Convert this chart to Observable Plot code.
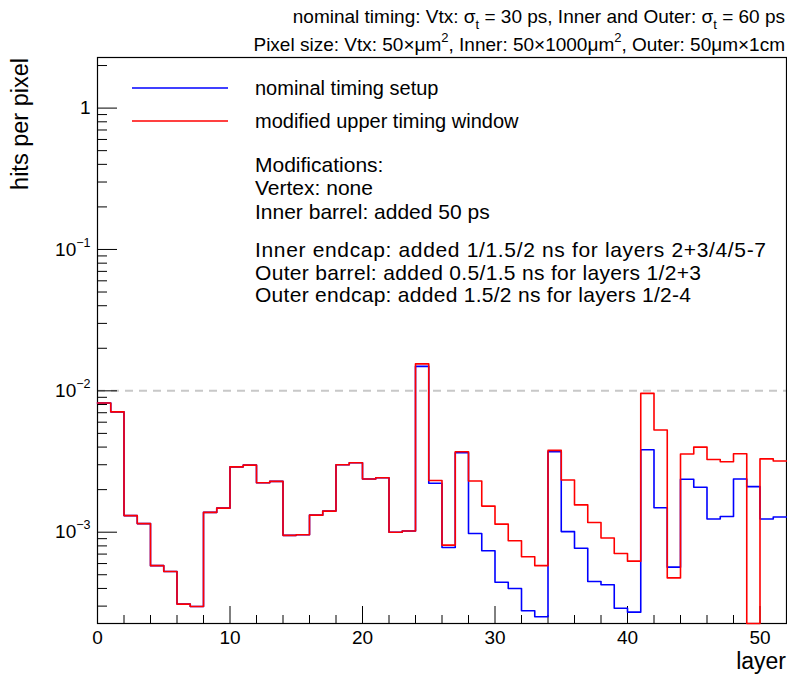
<!DOCTYPE html>
<html>
<head>
<meta charset="utf-8">
<script src="https://cdn.jsdelivr.net/npm/d3@7"></script>
<script src="https://cdn.jsdelivr.net/npm/@observablehq/plot@0.6"></script>
<style>
  html, body { margin: 0; padding: 0; background: #fff; }
  #chart svg { font-family: "Liberation Sans", Arial, Helvetica, sans-serif; display: block; }
</style>
</head>
<body>
<div id="chart"></div>
<script>
// ---- data -------------------------------------------------------------
// bin edges (layer), 52 bins of width 1
const binEdges = [0,1,2,3,4,5,6,7,8,9,10,11,12,13,14,15,16,17,18,19,20,21,22,23,24,25,
  26,27,28,29,30,31,32,33,34,35,36,37,38,39,40,41,42,43,44,45,46,47,48,49,50,51,52];

// hits per pixel, nominal timing setup (blue)
const nominalHits = [8.2e-3,7.1e-3,1.31e-3,1.15e-3,5.8e-4,5.27e-4,3.1e-4,2.98e-4,1.38e-3,1.48e-3,
  2.9e-3,2.98e-3,2.24e-3,2.29e-3,9.5e-4,9.6e-4,1.32e-3,1.41e-3,3.0e-3,3.1e-3,
  2.38e-3,2.43e-3,1.0e-3,1.02e-3,1.49e-2,2.22e-3,7.8e-4,3.65e-3,9.8e-4,7.4e-4,
  4.43e-4,4.0e-4,2.78e-4,2.52e-4,3.71e-3,1.01e-3,7.7e-4,4.48e-4,4.25e-4,2.9e-4,
  2.72e-4,3.83e-3,1.49e-3,5.66e-4,2.37e-3,2.08e-3,1.24e-3,1.29e-3,2.38e-3,2.1e-3,
  1.24e-3,1.28e-3];

// hits per pixel, modified upper timing window (red)
const modifiedHits = [8.2e-3,7.1e-3,1.31e-3,1.15e-3,5.8e-4,5.27e-4,3.1e-4,2.98e-4,1.38e-3,1.48e-3,
  2.9e-3,2.98e-3,2.24e-3,2.29e-3,9.5e-4,9.6e-4,1.32e-3,1.41e-3,3.0e-3,3.1e-3,
  2.38e-3,2.43e-3,1.0e-3,1.02e-3,1.55e-2,2.32e-3,8.1e-4,3.71e-3,2.3e-3,1.53e-3,
  1.14e-3,8.7e-4,6.7e-4,5.8e-4,3.79e-3,2.34e-3,1.56e-3,1.17e-3,9.1e-4,7.06e-4,
  6.24e-4,9.6e-3,5.28e-3,4.75e-4,3.57e-3,4.0e-3,3.27e-3,3.15e-3,3.59e-3,0,
  3.3e-3,3.19e-3];

const xDomain = [0, 52];
const yDomain = [2.26e-4, 2.28];
const referenceLevel = [0.01];

const xMajorTicks = [0, 10, 20, 30, 40, 50];
const xMinorTicks = [2,4,6,8,12,14,16,18,22,24,26,28,32,34,36,38,42,44,46,48,52];
const yMajorTicks = [1e-3, 1e-2, 1e-1, 1];
const yMajorLabels = ["10^\u22123", "10^\u22122", "10^\u22121", "1"];
const yMinorTicks = [3e-4,4e-4,5e-4,6e-4,7e-4,8e-4,9e-4,
  2e-3,3e-3,4e-3,5e-3,6e-3,7e-3,8e-3,9e-3,
  2e-2,3e-2,4e-2,5e-2,6e-2,7e-2,8e-2,9e-2,
  2e-1,3e-1,4e-1,5e-1,6e-1,7e-1,8e-1,9e-1, 2];

const seriesNames = ["nominal timing setup", "modified upper timing window"];
const seriesColors = ["#0000ff", "#ff0000"];
const xTitle = "layer";
const yTitle = "hits per pixel";
const headerLines = [
  [["nominal timing: Vtx: \u03c3"], ["t", "sub"], [" = 30 ps, Inner and Outer: \u03c3"], ["t", "sub"], [" = 60 ps"]],
  [["Pixel size: Vtx: 50\u00d7\u03bcm"], ["2", "sup"], [", Inner: 50\u00d71000\u03bcm"], ["2", "sup"], [", Outer: 50\u03bcm\u00d71cm"]]
];
const noteLines = [
  "Modifications:",
  "Vertex: none",
  "Inner barrel: added 50 ps",
  "Inner endcap: added 1/1.5/2 ns for layers 2+3/4/5-7",
  "Outer barrel: added 0.5/1.5 ns for layers 1/2+3",
  "Outer endcap: added 1.5/2 ns for layers 1/2-4"
];
// measured widths of the longer note lines in the reference (px)
const noteWidths = [null, null, null, 511, 446, 436];

// ---- build step rows -------------------------------------------------
function stepRows(values) {
  const rows = values.map((v, i) => ({x: binEdges[i], v}));
  rows.push({x: binEdges[values.length], v: values[values.length - 1]});
  return rows;
}
const nominalRows = stepRows(nominalHits);
const modifiedRows = stepRows(modifiedHits);
const yFloor = (d) => Math.max(d.v, yDomain[0]);

const W = 787, H = 674;
const plot = Plot.plot({
  width: W, height: H,
  marginTop: 57, marginBottom: 51, marginLeft: 97, marginRight: 1,
  style: {fontFamily: '"Liberation Sans", Arial, sans-serif', background: "#fff", color: "#000"},
  x: {domain: xDomain},
  y: {type: "log", domain: yDomain},
  marks: [
    Plot.ruleY(referenceLevel, {stroke: "#c8c8c8", strokeWidth: 2, strokeDasharray: "8,6"}),
    Plot.axisX(xMajorTicks, {tickSize: -17, text: null, label: null, stroke: "#000"}),
    Plot.axisX(xMinorTicks, {tickSize: -8, text: null, label: null, stroke: "#000"}),
    Plot.axisX(xMajorTicks, {tickSize: 0, tickPadding: 7, fontSize: 19, label: null, tickFormat: d => String(d)}),
    Plot.axisY(yMajorTicks, {tickSize: -20, text: null, label: null, stroke: "#000"}),
    Plot.axisY(yMinorTicks, {tickSize: -10, text: null, label: null, stroke: "#000"}),
    Plot.axisY(yMajorTicks, {tickSize: 0, tickPadding: 7, fontSize: 19, label: null,
      tickFormat: d => yMajorLabels[yMajorTicks.indexOf(d)]}),
    Plot.frame({stroke: "#000", strokeWidth: 1.2}),
    Plot.line(nominalRows, {x: "x", y: yFloor, curve: "step-after", stroke: seriesColors[0], strokeWidth: 1.6}),
    Plot.line(modifiedRows, {x: "x", y: yFloor, curve: "step-after", stroke: seriesColors[1], strokeWidth: 1.6})
  ]
});
document.getElementById("chart").appendChild(plot);

// ---- superscripts in y tick labels ------------------------------------
const svg = d3.select(plot);
svg.selectAll('g[aria-label="y-axis tick label"] text').each(function () {
  const t = this.textContent;
  if (t.includes("^")) {
    const [b, e] = t.split("^");
    this.textContent = b;
    d3.select(this).append("tspan").attr("dy", -9).attr("font-size", 12.5).text(e);
  }
});

// ---- texts --------------------------------------------------------------
const font = '"Liberation Sans", Arial, sans-serif';
function richText(parent, x, y, parts, size, anchor) {
  const t = parent.append("text").attr("x", x).attr("y", y).attr("font-size", size)
    .attr("font-family", font).attr("text-anchor", anchor).attr("fill", "#000");
  const small = Math.round(size * 0.7);
  let pending = 0;
  parts.forEach(([s, kind]) => {
    if (kind === "sub" || kind === "sup") {
      const d = kind === "sub" ? size * 0.3 : -size * 0.45;
      t.append("tspan").attr("dy", pending + d).attr("font-size", small).text(s);
      pending = -d;
    } else {
      const sp = t.append("tspan").attr("font-size", size).text(s);
      if (pending) sp.attr("dy", pending);
      pending = 0;
    }
  });
  return t;
}
richText(svg, 785, 23, headerLines[0], 19, "end");
richText(svg, 785, 51, headerLines[1], 19, "end");

// axis titles
svg.append("text").attr("x", 786).attr("y", 669).attr("text-anchor", "end")
  .attr("font-size", 23).attr("font-family", font).text(xTitle);
svg.append("text").attr("transform", "translate(28,58) rotate(-90)").attr("text-anchor", "end")
  .attr("font-size", 23.5).attr("font-family", font).text(yTitle);

// legend
const legendY = [88, 121];
seriesNames.forEach((name, i) => {
  svg.append("line").attr("x1", 132).attr("x2", 228).attr("y1", legendY[i]).attr("y2", legendY[i])
    .attr("stroke", seriesColors[i]).attr("stroke-width", 1.4);
  svg.append("text").attr("x", 255).attr("y", legendY[i] + 7).attr("font-size", 20)
    .attr("text-anchor", "start").attr("font-family", font).text(name);
});
const noteY = [172, 195, 219, 257, 280, 302];
noteLines.forEach((line, i) => {
  const t = svg.append("text").attr("x", 255).attr("y", noteY[i]).attr("font-size", 21)
    .attr("text-anchor", "start").attr("font-family", font).text(line);
  if (noteWidths[i]) t.attr("textLength", noteWidths[i]).attr("lengthAdjust", "spacing");
});
</script>
</body>
</html>
